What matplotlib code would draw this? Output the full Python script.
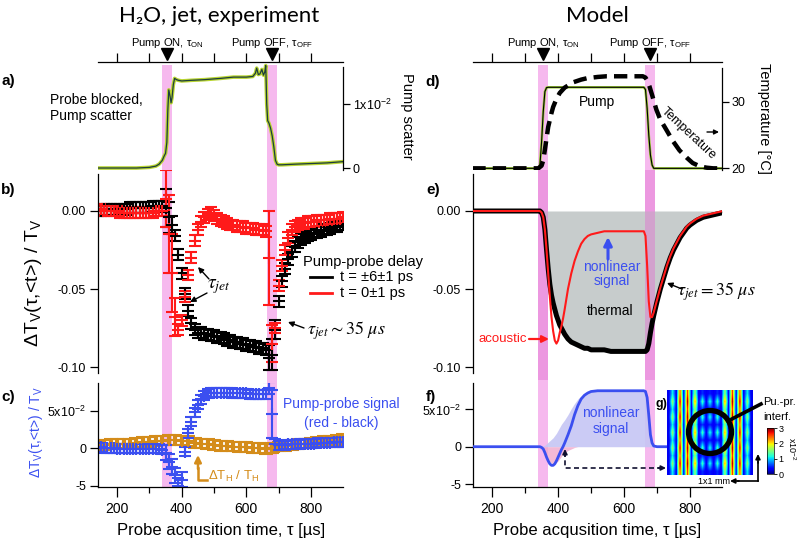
import numpy as np
import matplotlib
matplotlib.use('Agg')
import matplotlib.pyplot as plt
from matplotlib.patches import Circle
from matplotlib.transforms import blended_transform_factory

plt.rcParams['font.family'] = ['Liberation Sans', 'DejaVu Sans']
plt.rcParams['mathtext.fontset'] = 'custom'
plt.rcParams['mathtext.rm'] = 'Liberation Sans'
plt.rcParams['mathtext.it'] = 'Liberation Sans:italic'
plt.rcParams['mathtext.bf'] = 'Liberation Sans:bold'
plt.rcParams['mathtext.sf'] = 'Liberation Sans'
plt.rcParams['axes.linewidth'] = 0.9

# ---------------- data ----------------
band_start = [340, 665]
band_end = [370, 695]
pump_marks = [355, 680]
x_ticks_major = [200, 400, 600, 800]
x_ticks_minor = [300, 500, 700]
x_ticks_top = [200, 300, 400, 500, 600, 700, 800]

# a) pump scatter (probe blocked)
scat_t = [140, 200, 260, 300, 320, 330, 340, 345, 350, 354, 357, 360, 364, 367, 370, 374, 378, 384, 390, 400,
          430, 470, 520, 560, 600, 620, 628, 632, 637, 642, 648, 653, 657, 660, 663, 666, 670, 675, 680, 685,
          690, 695, 700, 710, 750, 800, 850, 900]
scat_v = [0.0000, 0.0000, 0.0000, 0.0001, 0.0003, 0.0006, 0.0012, 0.0018, 0.0023, 0.0040,
          0.0090, 0.0122, 0.0112, 0.0102, 0.0110, 0.0130, 0.0140, 0.0138, 0.0137, 0.0136,
          0.0137, 0.0138, 0.0140, 0.0142, 0.0142, 0.0143, 0.0148, 0.0156, 0.0146, 0.0147,
          0.0154, 0.0145, 0.0150, 0.0160, 0.0100, 0.0074, 0.0070, 0.0062, 0.0050, 0.0033,
          0.0012, 0.0006, 0.0005, 0.0005, 0.0006, 0.0007, 0.0008, 0.0010]

# b) / c) experiment, probe acquisition times
t_exp = list(range(140, 901, 10))
dT_black = [0.000, 0.000, 0.001, 0.001, 0.001, 0.001, 0.001, 0.001, 0.001, 0.001,
            0.002, 0.002, 0.002, 0.002, 0.002, 0.002, 0.002, 0.003, 0.003, 0.003,
            0.003, 0.002, -0.004, -0.009, -0.016, -0.028, -0.040, -0.053, -0.064, -0.072,
            -0.076, -0.078, -0.078, -0.079, -0.079, -0.080, -0.080, -0.081, -0.081, -0.082,
            -0.083, -0.083, -0.084, -0.084, -0.085, -0.085, -0.086, -0.086, -0.087, -0.087,
            -0.088, -0.088, -0.089, -0.094, -0.092, -0.076, -0.058, -0.045, -0.037, -0.031,
            -0.026, -0.023, -0.020, -0.018, -0.017, -0.016, -0.015, -0.014, -0.014, -0.013,
            -0.012, -0.012, -0.011, -0.010, -0.010, -0.009, -0.009]
err_black = [0.0035] * 21 + [0.012, 0.010, 0.006] + [0.0035] * 29 + [0.008, 0.010, 0.006] + [0.0035] * 21
dT_red = [0.001, 0.001, 0.000, 0.000, 0.000, 0.000, 0.000, -0.001, -0.001, -0.001,
          -0.001, -0.001, -0.001, -0.001, -0.001, -0.001, -0.001, -0.001, 0.000, 0.000,
          0.000, 0.008, -0.015, -0.040, -0.068, -0.076, -0.070, -0.055, -0.041, -0.030,
          -0.019, -0.012, -0.007, -0.004, -0.002, -0.001, -0.003, -0.005, -0.006, -0.007,
          -0.008, -0.009, -0.009, -0.010, -0.010, -0.010, -0.011, -0.011, -0.011, -0.012,
          -0.012, -0.012, -0.013, -0.030, -0.085, -0.075, -0.048, -0.035, -0.025, -0.017,
          -0.012, -0.010, -0.009, -0.008, -0.008, -0.007, -0.007, -0.007, -0.006, -0.006,
          -0.006, -0.006, -0.005, -0.005, -0.005, -0.005, -0.004]
err_red = [0.0035] * 21 + [0.018, 0.025, 0.025, 0.012] + [0.0035] * 28 + [0.030, 0.012] + [0.0035] * 22
dT_signal = [0.001, 0.001, 0.000, 0.000, 0.000, 0.000, -0.001, -0.001, -0.001, -0.001,
             -0.001, -0.001, -0.001, -0.001, -0.001, -0.001, -0.001, -0.001, -0.001, -0.001,
             -0.002, -0.006, -0.018, -0.025, -0.036, -0.050, -0.042, -0.005, 0.020, 0.035,
             0.048, 0.058, 0.065, 0.070, 0.073, 0.074, 0.074, 0.074, 0.074, 0.074,
             0.074, 0.074, 0.073, 0.073, 0.073, 0.073, 0.073, 0.072, 0.072, 0.072,
             0.072, 0.072, 0.072, 0.080, 0.045, 0.006, 0.004, 0.004, 0.004, 0.005,
             0.005, 0.005, 0.005, 0.006, 0.006, 0.006, 0.006, 0.006, 0.007, 0.007,
             0.007, 0.007, 0.007, 0.008, 0.008, 0.008, 0.008]
err_signal = [0.006] * 21 + [0.010] * 6 + [0.006] * 26 + [0.008, 0.032] + [0.006] * 22
t_heat = list(range(140, 901, 20))
dT_heat = [0.004, 0.004, 0.005, 0.005, 0.006, 0.006, 0.007, 0.008, 0.008, 0.009,
           0.010, 0.011, 0.011, 0.010, 0.009, 0.007, 0.006, 0.005, 0.004, 0.003,
           0.003, 0.002, 0.001, 0.001, 0.000, 0.000, -0.001, 0.000, 0.002, 0.003,
           0.004, 0.005, 0.006, 0.007, 0.008, 0.009, 0.010, 0.011, 0.012]
err_heat = [0.0065] * 39

# d) model pump and temperature
pump_t = [140, 340, 345, 350, 355, 360, 365, 370, 660, 665, 670, 675, 680, 685, 690, 900]
pump_v = [20, 20, 20.5, 24.0, 28.5, 31.5, 32.1, 32.15, 32.15, 31.8, 29.0, 25.0, 22.0, 20.5, 20.0, 20.0]
temp_t = [140, 340, 350, 355, 360, 370, 380, 385, 395, 405, 420, 446, 470, 487, 520, 547, 600, 657, 665, 670,
          677, 685, 698, 710, 728, 748, 768, 790, 808, 830, 850, 870, 900]
temp_v = [20, 20, 20.4, 21.2, 22.8, 26.2, 28.3, 29.2, 30.4, 31.3, 32.1, 32.9, 33.3, 33.5, 33.7, 33.8, 33.8, 33.8,
          33.6, 33.2, 32.3, 31.0, 28.8, 27.3, 25.8, 24.1, 22.7, 21.6, 20.8, 20.3, 20.1, 20.0, 20.0]

# e) / f) model
model_t = [140, 300, 340, 345, 350, 355, 360, 365, 370, 375,
           380, 385, 390, 395, 400, 405, 410, 415, 420, 430,
           440, 450, 460, 470, 480, 490, 500, 520, 540, 560,
           580, 600, 620, 640, 660, 665, 670, 675, 680, 685,
           690, 700, 710, 720, 730, 740, 750, 760, 770, 780,
           790, 800, 820, 840, 860, 880, 900]
model_thermal = [0, 0, 0, 0, -0.001, -0.004, -0.012, -0.025, -0.037, -0.047,
                 -0.054, -0.059, -0.063, -0.067, -0.070, -0.073, -0.075, -0.077, -0.079, -0.082,
                 -0.084, -0.085, -0.086, -0.087, -0.088, -0.088, -0.089, -0.089, -0.089, -0.090,
                 -0.090, -0.090, -0.090, -0.090, -0.090, -0.090, -0.089, -0.085, -0.078, -0.072,
                 -0.067, -0.058, -0.050, -0.043, -0.036, -0.030, -0.025, -0.021, -0.017, -0.014,
                 -0.011, -0.009, -0.006, -0.004, -0.003, -0.002, -0.001]
model_total = [0, 0, 0, 0, -0.001, -0.004, -0.012, -0.025, -0.040, -0.055,
               -0.068, -0.077, -0.083, -0.085, -0.083, -0.078, -0.074, -0.069, -0.063, -0.050,
               -0.040, -0.032, -0.026, -0.021, -0.018, -0.016, -0.015, -0.014, -0.013, -0.013,
               -0.013, -0.013, -0.013, -0.013, -0.013, -0.016, -0.035, -0.058, -0.068, -0.068,
               -0.065, -0.057, -0.049, -0.042, -0.035, -0.029, -0.024, -0.020, -0.016, -0.013,
               -0.010, -0.008, -0.005, -0.003, -0.002, -0.001, 0.000]
model_signal = [0, 0, 0, 0, -0.001, -0.003, -0.008, -0.014, -0.019, -0.023,
                -0.025, -0.025, -0.023, -0.019, -0.014, -0.009, -0.004, 0.000, 0.005, 0.016,
                0.028, 0.043, 0.055, 0.064, 0.069, 0.072, 0.074, 0.075, 0.075, 0.075,
                0.075, 0.075, 0.075, 0.075, 0.075, 0.074, 0.066, 0.042, 0.016, 0.005,
                0.001, 0, 0, 0, 0, 0, 0, 0, 0, 0,
                0, 0, 0, 0, 0, 0, 0]
model_nonlin_env = [0, 0, 0, 0, 0.000, 0.001, 0.002, 0.004, 0.006, 0.008,
                    0.010, 0.012, 0.015, 0.018, 0.022, 0.026, 0.030, 0.033, 0.036, 0.043,
                    0.051, 0.058, 0.064, 0.068, 0.071, 0.073, 0.074, 0.075, 0.075, 0.075,
                    0.075, 0.075, 0.075, 0.075, 0.075, 0.074, 0.066, 0.042, 0.016, 0.005,
                    0.001, 0, 0, 0, 0, 0, 0, 0, 0, 0,
                    0, 0, 0, 0, 0, 0, 0]
model_acoustic = [0, 0, 0, 0, -0.001, -0.003, -0.008, -0.013, -0.017, -0.020,
                  -0.022, -0.023, -0.023, -0.021, -0.019, -0.016, -0.013, -0.010, -0.008, -0.005,
                  -0.003, -0.001, 0, 0, 0, 0, 0, 0, 0, 0,
                  0, 0, 0, 0, 0, 0, 0, 0, 0, 0,
                  0, 0, 0, 0, 0, 0, 0, 0, 0, 0,
                  0, 0, 0, 0, 0, 0, 0]

# g) pump-probe interference map (x10^-2)
row_a = [0.3, 1.6, 0.3, 2.9, 0.3, 2.9, 0.3, 2.3, 0.3, 1.3, 0.3, 1.2, 0.3, 1.3, 0.3, 2.3, 0.3, 2.9, 0.3, 2.9, 0.3, 1.6, 0.3]
row_b = [0.3, 1.1, 0.3, 2.5, 0.3, 2.6, 0.3, 1.6, 0.3, 0.5, 0.3, 0.45, 0.3, 0.5, 0.3, 1.6, 0.3, 2.6, 0.3, 2.5, 0.3, 1.1, 0.3]
interf_map = [row_b, row_a, row_b, row_a, row_b, row_a, row_b, row_a, row_b, row_a, row_b]
cbar_ticks = [0, 1, 2, 3]

# ---------------- style ----------------
PINK = '#f6b9ee'
GREY = '#c7cccc'
BLUE = '#3b4ff0'
RED = '#ff1a1a'
ORANGE = '#d48c1a'

W, H = 799, 543
fig = plt.figure(figsize=(W / 100, H / 100), dpi=100)


def px_axes(x0, y0, x1, y1):
    return fig.add_axes([x0 / W, 1 - y1 / H, (x1 - x0) / W, (y1 - y0) / H])


def setup(ax, xlim, ylim, spines):
    ax.set_xlim(*xlim)
    ax.set_ylim(*ylim)
    ax.patch.set_visible(False)
    for s in ax.spines:
        ax.spines[s].set_visible(s in spines)


XL = (141, 899)
XR = (142, 897)
LX0, LX1 = 98, 343
RX0, RX1 = 473, 722

# pink pump-overlap bands behind everything
for x0, x1, xl in [(LX0, LX1, XL), (RX0, RX1, XR)]:
    bg = px_axes(x0, 65, x1, 487)
    bg.set_xlim(*xl)
    bg.set_ylim(0, 1)
    bg.axis('off')
    bg.set_zorder(-1)
    for b0, b1 in zip(band_start, band_end):
        bg.axvspan(b0, b1, color=PINK, lw=0)


def top_panel(ax, xl, ylim, yt, ytl, spine_top):
    setup(ax, xl, ylim, ['top', 'right'])
    ax.xaxis.set_ticks_position('top')
    ax.set_xticks(x_ticks_top)
    ax.tick_params(axis='x', direction='out', length=6.5, width=0.9, labeltop=False, labelbottom=False)
    ax.yaxis.set_ticks_position('right')
    ax.set_yticks(yt)
    ax.set_yticklabels(ytl)
    ax.tick_params(axis='y', direction='out', length=5, width=0.9, labelsize=9, pad=2)
    ax.spines['right'].set_bounds(ylim[0], spine_top)
    tr = blended_transform_factory(ax.transData, ax.transAxes)
    ax.plot(pump_marks, [1.07, 1.07], linestyle='none', marker='v', ms=8, color='k',
            transform=tr, clip_on=False)
    ax.text(pump_marks[0], 1.18, 'Pump ON, τ$_{\\rm ON}$', transform=tr, ha='center', va='center', fontsize=8)
    ax.text(pump_marks[1], 1.18, 'Pump OFF, τ$_{\\rm OFF}$', transform=tr, ha='center', va='center', fontsize=8)


def mid_panel(ax, xl):
    setup(ax, xl, (-0.10833, 0.02628), ['left'])
    ax.set_xticks([])
    ax.set_yticks([0, -0.05, -0.10])
    ax.set_yticklabels(['0.00', '-0.05', '-0.10'])
    ax.tick_params(axis='y', direction='out', length=5.5, width=0.9, labelsize=9, pad=3)
    ax.spines['left'].set_bounds(-0.1038, 0.024)


def bot_panel(ax, xl, ylim):
    setup(ax, xl, ylim, ['left', 'bottom'])
    ax.set_xticks(x_ticks_major)
    ax.set_xticks(x_ticks_minor, minor=True)
    ax.tick_params(axis='x', which='major', direction='out', length=7, width=0.9, labelsize=10, pad=4)
    ax.tick_params(axis='x', which='minor', direction='out', length=4, width=0.9)
    ax.set_yticks([-0.05, 0, 0.05])
    ax.set_yticklabels(['-5', '0', '5x10$^{-2}$'])
    ax.tick_params(axis='y', direction='out', length=5.5, width=0.9, labelsize=9, pad=3)


EB = dict(fmt='+', ms=9, mew=1.5, elinewidth=1.5, capsize=4.5, capthick=1.5)

# ---- a)
axa = px_axes(LX0, 62, LX1, 170)
top_panel(axa, XL, (-0.00031, 0.01656), [0, 0.01], ['0', '1x10$^{-2}$'], 0.0158)
axa.plot(scat_t, scat_v, color='#b8d430', lw=2.6, solid_joinstyle='round')
axa.plot(scat_t, scat_v, color='#1d3d3d', lw=0.9)

# ---- b)
axb = px_axes(LX0, 170, LX1, 380)
mid_panel(axb, XL)
axb.errorbar(t_exp, dT_black, yerr=err_black, color='k', **EB)
axb.errorbar(t_exp, dT_red, yerr=err_red, color=RED, **EB)

# ---- c)
axc = px_axes(LX0, 383, LX1, 487)
bot_panel(axc, XL, (-0.052, 0.0867))
axc.errorbar(t_heat, dT_heat, yerr=err_heat, color=ORANGE, fmt='+', ms=9, mew=1.5,
             elinewidth=3.0, capsize=5, capthick=1.5)
axc.errorbar(t_exp, dT_signal, yerr=err_signal, color=BLUE, **EB)

# ---- d)
axd = px_axes(RX0, 62, RX1, 170)
top_panel(axd, XR, (19.75, 35.94), [20, 30], ['20', '30'], 35.0)
axd.plot(pump_t, pump_v, color='#9acd32', lw=1.8)
axd.plot(pump_t, pump_v, color='k', lw=0.8)
axd.plot(temp_t, temp_v, color='k', lw=3.2, dashes=(3.0, 1.6))

# ---- e)
axe = px_axes(RX0, 170, RX1, 380)
mid_panel(axe, XR)
axe.fill_between(model_t, 0, model_thermal, color=GREY, lw=0, zorder=1)
for b0, b1 in zip(band_start, band_end):
    axe.axvspan(b0, b1, color='#e070d0', alpha=0.45, lw=0, zorder=1.5)
axe.plot(model_t, model_thermal, color='k', lw=3.6, zorder=3, solid_capstyle='round')
axe.plot(model_t, model_total, color=RED, lw=1.5, zorder=4)

# ---- f)
axf = px_axes(RX0, 383, RX1, 487)
bot_panel(axf, XR, (-0.054, 0.0854))
axf.fill_between(model_t, 0, model_nonlin_env, color='#c6c6f4', lw=0, alpha=0.9, zorder=1)
axf.fill_between(model_t, model_acoustic, 0, color='#f0a8cc', lw=0, alpha=0.8, zorder=1.2)
axf.plot(model_t, model_signal, color=BLUE, lw=2.0, zorder=3)

# ---- g) inset
axg = px_axes(667, 390, 753, 475)
im = axg.imshow(interf_map, cmap='jet', vmin=0, vmax=3, aspect='auto', interpolation='bilinear',
                interpolation_stage='data')
axg.set_xticks([])
axg.set_yticks([])
for s in axg.spines.values():
    s.set_visible(False)
cax = px_axes(767, 428, 774, 474)
cb = fig.colorbar(im, cax=cax, ticks=cbar_ticks)
cb.ax.tick_params(labelsize=6.5, length=2, width=0.6, pad=1)
cb.outline.set_linewidth(0.5)

# ---------------- overlay (text & arrows, pixel coords) ----------------
ov = fig.add_axes([0, 0, 1, 1])
ov.set_xlim(0, W)
ov.set_ylim(H, 0)
ov.axis('off')
ov.set_zorder(20)


def arrow(xy, xytext, color='k', lw=1.0, ms=8, ls='-'):
    ov.annotate('', xy=xy, xytext=xytext,
                arrowprops=dict(arrowstyle='-|>', color=color, lw=lw, mutation_scale=ms,
                                shrinkA=0, shrinkB=0, linestyle=ls))


ov.text(219, 16, 'H₂O, jet, experiment', ha='center', va='center', fontsize=16,
        family=['Lato', 'DejaVu Sans'])
ov.text(597, 16, 'Model', ha='center', va='center', fontsize=16, family=['Lato', 'DejaVu Sans'])

for lab, x, y in [('a)', 8, 81), ('b)', 8, 190), ('c)', 8, 397), ('d)', 433, 82), ('e)', 433, 190), ('f)', 431, 397)]:
    ov.text(x, y, lab, ha='center', va='center', fontsize=11, fontweight='bold')

ov.text(33, 283, 'ΔT$_{\\rm V}$(τ,<t>) / T$_{\\rm V}$', rotation=90, ha='center', va='center', fontsize=14)
ov.text(36, 432, 'ΔT$_{\\rm V}$(τ,<t>) / T$_{\\rm V}$', rotation=90, ha='center', va='center',
        fontsize=10, color=BLUE)
ov.text(407, 116, 'Pump scatter', rotation=-90, ha='center', va='center', fontsize=10.5)
ov.text(764, 118, 'Temperature [°C]', rotation=-90, ha='center', va='center', fontsize=10.5)
ov.text(221, 530, 'Probe acqusition time, τ [µs]', ha='center', va='center', fontsize=12)
ov.text(597, 530, 'Probe acqusition time, τ [µs]', ha='center', va='center', fontsize=12)

# a) text
ov.text(50, 108, 'Probe blocked,\nPump scatter', ha='left', va='center', fontsize=10, linespacing=1.1)

# b) annotations
ov.text(219, 287, r'$\tau_{jet}$', ha='center', va='center', fontsize=14, math_fontfamily='stix')
arrow((198, 267), (209, 279))
arrow((190, 302), (207, 293))
ov.text(307, 331, r'$\tau_{jet}{\sim}35\ \mu s$', ha='left', va='center', fontsize=13, math_fontfamily='stix')
arrow((288, 322), (304, 328))
ov.text(303, 262, 'Pump-probe delay', ha='left', va='center', fontsize=10.5)
ov.plot([310, 332], [277, 277], color='k', lw=2)
ov.plot([310, 332], [293, 293], color=RED, lw=2)
ov.text(340, 277, 't = ±6±1 ps', ha='left', va='center', fontsize=10.5)
ov.text(340, 293, 't = 0±1 ps', ha='left', va='center', fontsize=10.5)

# c) annotations
ov.text(341, 404, 'Pump-probe signal', ha='center', va='center', fontsize=10, color=BLUE)
ov.text(341, 423, '(red - black)', ha='center', va='center', fontsize=10, color=BLUE)
ov.plot([207, 198, 198], [480, 480, 468], color=ORANGE, lw=1.8)
arrow((198, 455), (198, 469), color=ORANGE, lw=1.8, ms=10)
ov.text(208, 476, 'ΔT$_{\\rm H}$ / T$_{\\rm H}$', ha='left', va='center', fontsize=9.5, color=ORANGE)

# d) annotations
ov.text(597, 102, 'Pump', ha='center', va='center', fontsize=10)
ov.text(688, 134, 'Temperature', ha='center', va='center', fontsize=9, rotation=-43)
arrow((719, 132), (707, 132), ms=7)

# e) annotations
ov.text(612, 267, 'nonlinear', ha='center', va='center', fontsize=10, color=BLUE)
ov.text(612, 281, 'signal', ha='center', va='center', fontsize=10, color=BLUE)
arrow((608, 237), (608, 259), color=BLUE, lw=2.2, ms=12)
ov.text(610, 311, 'thermal', ha='center', va='center', fontsize=10)
ov.text(503, 339, 'acoustic', ha='center', va='center', fontsize=9.5, color=RED)
arrow((549, 339), (529, 339), color=RED, lw=1.6, ms=10)
ov.text(677, 292, r'$\tau_{jet}=35\ \mu s$', ha='left', va='center', fontsize=13, math_fontfamily='stix')
arrow((667, 283), (682, 289))

# f) annotations
ov.text(611, 413, 'nonlinear', ha='center', va='center', fontsize=10, color=BLUE)
ov.text(611, 429, 'signal', ha='center', va='center', fontsize=10, color=BLUE)
ov.plot([565, 565, 660], [452, 468, 468], color='#101030', lw=1.2, dashes=(3, 2))
arrow((565, 449), (565, 456), color='#101030', lw=1.2, ms=7)
arrow((666, 468), (658, 468), color='#101030', lw=1.2, ms=7)

# g) annotations
ov.text(667, 404, 'g)', ha='right', va='center', fontsize=9, fontweight='bold')
ov.add_patch(Circle((710, 432), 21.5, fill=False, lw=3.8, ec='k'))
ov.plot([728, 761], [421, 404], color='k', lw=2.6)
ov.text(763, 402, 'Pu.-pr.', ha='left', va='center', fontsize=8)
ov.text(763, 417, 'interf.', ha='left', va='center', fontsize=8)
ov.text(792, 449, 'x10$^{-2}$', ha='center', va='center', fontsize=6.5, rotation=-90)
ov.text(714, 481, '1x1 mm', ha='center', va='center', fontsize=6.5)
ov.plot([758, 758], [481, 462], color='k', lw=1.2)
arrow((758, 454), (758, 463), lw=1.2, ms=7)
ov.plot([758, 738], [481, 481], color='k', lw=1.2)
arrow((730, 481), (739, 481), lw=1.2, ms=7)

fig.savefig('out.png', dpi=100)
